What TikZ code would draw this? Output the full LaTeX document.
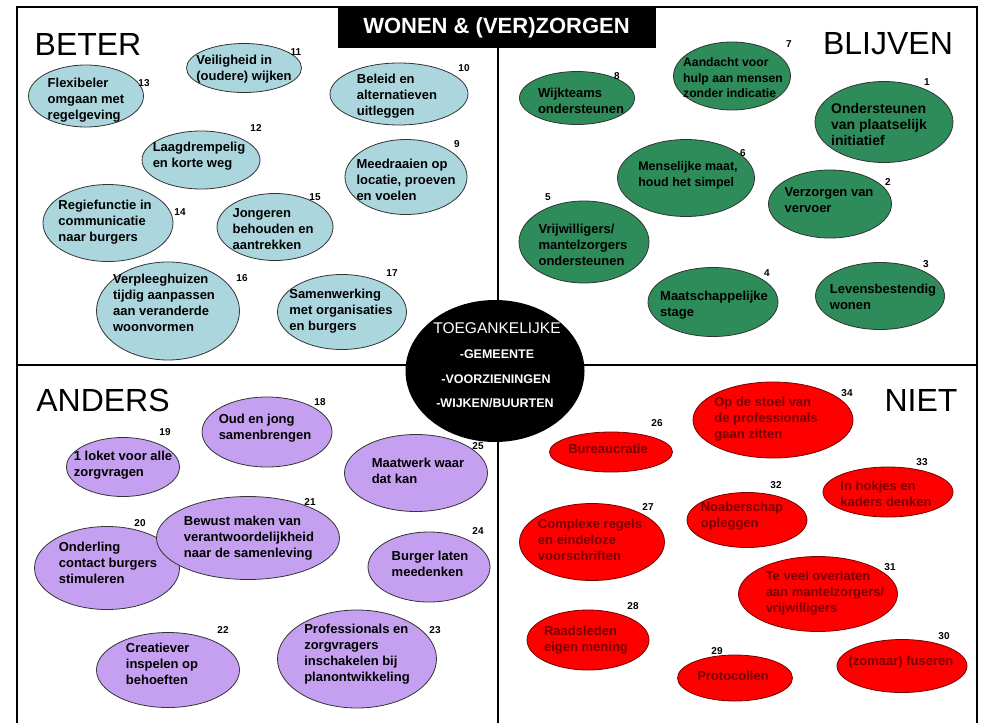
\documentclass[tikz,border=0pt]{standalone}
\usepackage{fontspec}
\setmainfont{Liberation Sans}
\usetikzlibrary{shapes.geometric}
\definecolor{beterblue}{RGB}{172,214,222}
\definecolor{blijvengreen}{RGB}{46,140,90}
\definecolor{anderspurple}{RGB}{198,160,240}
\definecolor{nietred}{RGB}{255,0,0}
\definecolor{nietdark}{RGB}{120,0,0}
\begin{document}
\begin{tikzpicture}[x=1pt,y=-1pt,
    idea/.style={ellipse,draw=black!80,line width=0.8pt,inner sep=0pt},
    beter/.style={idea,fill=beterblue},
    blijven/.style={idea,fill=blijvengreen},
    anders/.style={idea,fill=anderspurple},
    niet/.style={idea,fill=nietred,draw=nietdark},
    idtext/.style={font=\bfseries\fontsize{13}{16}\selectfont,align=left,inner sep=0pt},
    niettext/.style={idtext,text=nietdark},
    nr/.style={font=\bfseries\fontsize{10}{10}\selectfont,inner sep=0pt},
    kop/.style={font=\fontsize{32}{32}\selectfont,inner sep=0pt}]
    \useasboundingbox (0,0) rectangle (982,723);
    % frame and quadrants
    \draw[line width=2pt] (17,723) -- (17,7) -- (977,7) -- (977,723);
    \draw[line width=2.5pt] (17,365) -- (977,365);
    \draw[line width=2.5pt] (498,48) -- (498,723);
    \node[fill=black,text=white,minimum width=318pt,minimum height=41pt,inner sep=0pt,
        font=\bfseries\fontsize{22}{22}\selectfont] (titel) at (496.5,27.5) {WONEN \& (VER)ZORGEN};
        \node[kop] (beterkop) at (88,44) {BETER};
        \node[kop] (blijvenkop) at (888,44) {BLIJVEN};
        \node[kop] (anderskop) at (103,400) {ANDERS};
        \node[kop] (nietkop) at (921,400) {NIET};
    % centre
    \node[ellipse,fill=black,minimum width=179pt,minimum height=142pt,inner sep=0pt] (kern) at (495,371) {};
        \node[text=white,font=\fontsize{15.5}{15.5}\selectfont,inner sep=0pt] (k0) at (497,328) {TOEGANKELIJKE};
        \node[text=white,font=\bfseries\fontsize{12.5}{12.5}\selectfont,inner sep=0pt] (k1) at (497,354) {-GEMEENTE};
        \node[text=white,font=\bfseries\fontsize{12.5}{12.5}\selectfont,inner sep=0pt] (k2) at (496,379) {-VOORZIENINGEN};
        \node[text=white,font=\bfseries\fontsize{12.5}{12.5}\selectfont,inner sep=0pt] (k3) at (495,403) {-WIJKEN/BUURTEN};
    % BETER
    \node[beter,minimum width=115pt,minimum height=62pt] (e13) at (86,96) {};
        \node[idtext] (t13) at (86,100) {Flexibeler\\omgaan met\\regelgeving};
        \node[nr] (n13) at (144,83) {13};
    \node[beter,minimum width=115pt,minimum height=49pt] (e11) at (244,68) {};
        \node[idtext] (t11) at (244,69) {Veiligheid in\\(oudere) wijken};
        \node[nr] (n11) at (296,52) {11};
    \node[beter,minimum width=138pt,minimum height=62pt] (e10) at (399,94) {};
        \node[idtext] (t10) at (397,96) {Beleid en\\alternatieven\\uitleggen};
        \node[nr] (n10) at (464,68) {10};
    \node[beter,minimum width=118pt,minimum height=58pt] (e12) at (201,160) {};
        \node[idtext] (t12) at (199,156) {Laagdrempelig\\en korte weg};
        \node[nr] (n12) at (256,128) {12};
    \node[beter,minimum width=122pt,minimum height=75pt] (e9) at (406,177) {};
        \node[idtext] (t9) at (406,180) {Meedraaien op\\locatie, proeven\\en voelen};
        \node[nr] (n9) at (457,144) {9};
    \node[beter,minimum width=130pt,minimum height=77pt] (e14) at (108,223) {};
        \node[idtext] (t14) at (105,222) {Regiefunctie in\\communicatie\\naar burgers};
        \node[nr] (n14) at (180,212) {14};
    \node[beter,minimum width=116pt,minimum height=67pt] (e15) at (275,227) {};
        \node[idtext] (t15) at (273,229) {Jongeren\\behouden en\\aantrekken};
        \node[nr] (n15) at (315,197) {15};
    \node[beter,minimum width=143pt,minimum height=98pt] (e16) at (168,311) {};
        \node[idtext] (t16) at (164,303) {Verpleeghuizen\\tijdig aanpassen\\aan veranderde\\woonvormen};
        \node[nr] (n16) at (242,278) {16};
    \node[beter,minimum width=129pt,minimum height=75pt] (e17) at (342,312) {};
        \node[idtext] (t17) at (341,311) {Samenwerking\\met organisaties\\en burgers};
        \node[nr] (n17) at (392,273) {17};
    % BLIJVEN
    \node[blijven,minimum width=115pt,minimum height=53pt] (e8) at (577,98) {};
        \node[idtext] (t8) at (581,101) {Wijkteams\\ondersteunen};
        \node[nr] (n8) at (617,76) {8};
    \node[blijven,minimum width=117pt,minimum height=68pt] (e7) at (732,76) {};
        \node[idtext,font=\bfseries\fontsize{12.2}{15.5}\selectfont] (t7) at (733,78) {Aandacht voor\\hulp aan mensen\\zonder indicatie};
        \node[nr] (n7) at (789,44) {7};
    \node[blijven,minimum width=138pt,minimum height=81pt] (e1) at (884,122) {};
        \node[idtext,font=\bfseries\fontsize{14}{16}\selectfont] (t1) at (879,124) {Ondersteunen\\van plaatselijk\\initiatief};
        \node[nr] (n1) at (927,82) {1};
    \node[blijven,minimum width=137pt,minimum height=77pt] (e6) at (686,178) {};
        \node[idtext,font=\bfseries\fontsize{12.5}{16}\selectfont] (t6) at (688,175) {Menselijke maat,\\houd het simpel};
        \node[nr] (n6) at (743,153) {6};
    \node[blijven,minimum width=123pt,minimum height=68pt] (e2) at (830,204) {};
        \node[idtext] (t2) at (829,200) {Verzorgen van\\vervoer};
        \node[nr] (n2) at (888,182) {2};
    \node[blijven,minimum width=130pt,minimum height=82pt] (e5) at (584,242) {};
        \node[idtext] (t5) at (583,245) {Vrijwilligers/\\mantelzorgers\\ondersteunen};
        \node[nr] (n5) at (548,197) {5};
    \node[blijven,minimum width=130pt,minimum height=69pt] (e4) at (713,302) {};
        \node[idtext] (t4) at (714,305) {Maatschappelijke\\stage};
        \node[nr] (n4) at (767,273) {4};
    \node[blijven,minimum width=129pt,minimum height=67pt] (e3) at (880,296) {};
        \node[idtext] (t3) at (883,297) {Levensbestendig\\wonen};
        \node[nr] (n3) at (926,264) {3};
    % ANDERS
    \node[anders,minimum width=113pt,minimum height=59pt] (e19) at (123,467) {};
        \node[idtext] (t19) at (123,465) {1 loket voor alle\\zorgvragen};
        \node[nr] (n19) at (165,432) {19};
    \node[anders,minimum width=130pt,minimum height=70pt] (e18) at (267,432) {};
        \node[idtext] (t18) at (265,428) {Oud en jong\\samenbrengen};
        \node[nr] (n18) at (320,402) {18};
    \node[anders,minimum width=143pt,minimum height=77pt] (e25) at (416,473) {};
        \node[idtext] (t25) at (418,471) {Maatwerk waar\\dat kan};
        \node[nr] (n25) at (478,446) {25};
    \node[anders,minimum width=145pt,minimum height=83pt] (e20) at (107,568) {};
        \node[idtext] (t20) at (108,563) {Onderling\\contact burgers\\stimuleren};
        \node[nr] (n20) at (140,523) {20};
    \node[anders,minimum width=183pt,minimum height=83pt] (e21) at (248,538) {};
        \node[idtext] (t21) at (249,538) {Bewust maken van\\verantwoordelijkheid\\naar de samenleving};
        \node[nr] (n21) at (310,502) {21};
    \node[anders,minimum width=122pt,minimum height=70pt] (e24) at (429,567) {};
        \node[idtext] (t24) at (430,564) {Burger laten\\meedenken};
        \node[nr] (n24) at (478,531) {24};
    \node[anders,minimum width=143pt,minimum height=75pt] (e22) at (168,670) {};
        \node[idtext] (t22) at (162,664) {Creatiever\\inspelen op\\behoeften};
        \node[nr] (n22) at (223,630) {22};
    \node[anders,minimum width=159pt,minimum height=98pt] (e23) at (357,659) {};
        \node[idtext] (t23) at (357,654) {Professionals en\\zorgvragers\\inschakelen bij\\planontwikkeling};
        \node[nr] (n23) at (435,630) {23};
    % NIET
    \node[niet,minimum width=160pt,minimum height=76pt] (e34) at (773,420) {};
        \node[niettext] (t34) at (766,419) {Op de stoel van\\de professionals\\gaan zitten};
        \node[nr] (n34) at (847,393) {34};
    \node[niet,minimum width=123pt,minimum height=40pt] (e26) at (611,452) {};
        \node[niettext] (t26) at (608,449) {Bureaucratie};
        \node[nr] (n26) at (657,423) {26};
    \node[niet,minimum width=130pt,minimum height=50pt] (e33) at (888,492) {};
        \node[niettext] (t33) at (886,494) {In hokjes en\\kaders denken};
        \node[nr] (n33) at (922,462) {33};
    \node[niet,minimum width=120pt,minimum height=55pt] (e32) at (747,520) {};
        \node[niettext] (t32) at (742,516) {Noaberschap\\opleggen};
        \node[nr] (n32) at (776,485) {32};
    \node[niet,minimum width=145pt,minimum height=77pt] (e27) at (592,542) {};
        \node[niettext] (t27) at (590,540) {Complexe regels\\en eindeloze\\voorschriften};
        \node[nr] (n27) at (648,507) {27};
    \node[niet,minimum width=159pt,minimum height=75pt] (e31) at (818,594) {};
        \node[niettext] (t31) at (825,593) {Te veel overlaten\\aan mantelzorgers/\\vrijwilligers};
        \node[nr] (n31) at (890,567) {31};
    \node[niet,minimum width=122pt,minimum height=60pt] (e28) at (588,640) {};
        \node[niettext] (t28) at (586,640) {Raadsleden\\eigen mening};
        \node[nr] (n28) at (633,606) {28};
    \node[niet,minimum width=115pt,minimum height=46pt] (e29) at (735,678) {};
        \node[niettext] (t29) at (733,676) {Protocollen};
        \node[nr] (n29) at (717,651) {29};
    \node[niet,minimum width=130pt,minimum height=53pt] (e30) at (902,666) {};
        \node[niettext] (t30) at (901,662) {(zomaar) fuseren};
        \node[nr] (n30) at (944,636) {30};
\end{tikzpicture}
\end{document}
